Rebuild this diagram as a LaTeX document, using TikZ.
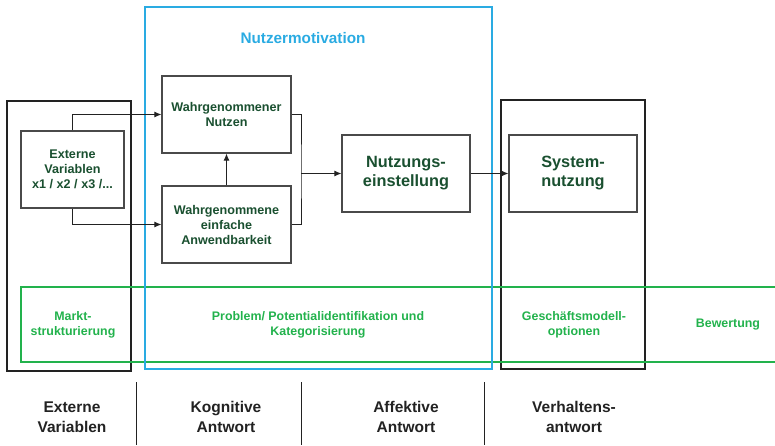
\documentclass[tikz,border=0pt]{standalone}
\usepackage{fontspec}
\setmainfont{Liberation Sans}
\usetikzlibrary{arrows.meta}
\definecolor{boxtext}{HTML}{1A5030}
\definecolor{stripgreen}{HTML}{22B24C}
\definecolor{motblue}{HTML}{2AABE2}
\definecolor{frameblack}{HTML}{222222}
\definecolor{boxgray}{HTML}{4A4A4A}
\begin{document}
\begin{tikzpicture}[x=1pt,y=-1pt,
  inner/.style={draw=boxgray,line width=1.1pt,fill=white,align=center,inner sep=0pt,
    font=\bfseries\fontsize{12.6}{15}\selectfont,text=boxtext},
  bigtext/.style={font=\bfseries\fontsize{16.3}{19}\selectfont},
  striplabel/.style={align=center,text=stripgreen,font=\bfseries\fontsize{12.4}{15}\selectfont},
  phase/.style={align=center,text=frameblack,font=\bfseries\fontsize{15.5}{20}\selectfont},
  frame/.style={draw=frameblack,line width=1.5pt},
  arr/.style={draw=frameblack,line width=1pt,-{Latex[length=7pt,width=6pt]}},
  conn/.style={draw=frameblack,line width=1pt}]
\useasboundingbox (0,0) rectangle (775,446);

% outer frames
\draw[frame] (7,101) rectangle (131,371);
\draw[frame] (501,100) rectangle (645,369);
\draw[draw=stripgreen,line width=1.5pt] (776,287) -- (21,287) -- (21,362) -- (776,362);
\draw[draw=motblue,line width=1.5pt] (145,7) rectangle (492,369);
\node[text=motblue,font=\bfseries\fontsize{15.3}{18}\selectfont] (mot) at (303,38) {Nutzermotivation};

% boxes
\node[inner,minimum width=103pt,minimum height=77pt] (ext) at (72.5,169.5) {Externe\\Variablen\\x1 / x2 / x3 /...};
\node[inner,minimum width=129pt,minimum height=77pt] (nutzen) at (226.5,114.5) {Wahrgenommener\\Nutzen};
\node[inner,minimum width=129pt,minimum height=77pt] (einfach) at (226.5,224.5) {Wahrgenommene\\einfache\\Anwendbarkeit};
\node[inner,bigtext,minimum width=128pt,minimum height=77pt] (einst) at (406,173.5) {Nutzungs-\\einstellung};
\node[inner,bigtext,minimum width=128pt,minimum height=77pt] (sysn) at (573,173.5) {System-\\nutzung};

% connectors
\coordinate (join) at (301,173.5);
\draw[arr] (ext.north) |- (nutzen.west);
\draw[arr] (ext.south) |- (einfach.west);
\draw[arr] (einfach.north) -- (nutzen.south);
\draw[conn] (nutzen.east) -| (join) |- (einfach.east);
\draw[arr] (join) -- (einst.west);
\draw[arr] (einst.east) -- (sysn.west);

% green strip labels
\node[striplabel] (markt) at (73,325) {Markt-\\strukturierung};
\node[striplabel] (problem) at (318,325) {Problem/ Potentialidentifikation und\\Kategorisierung};
\node[striplabel] (gm) at (574,325) {Geschäftsmodell-\\optionen};
\node[striplabel] (bew) at (728,325) {Bewertung};

% phase labels
\node[phase] (p1) at (72,417) {Externe\\Variablen};
\node[phase] (p2) at (226,417) {Kognitive\\Antwort};
\node[phase] (p3) at (406,417) {Affektive\\Antwort};
\node[phase] (p4) at (574,417) {Verhaltens-\\antwort};
\draw[conn] (136,382) -- (136,445);
\draw[conn] (301,382) -- (301,445);
\draw[conn] (484,382) -- (484,445);
\end{tikzpicture}
\end{document}
